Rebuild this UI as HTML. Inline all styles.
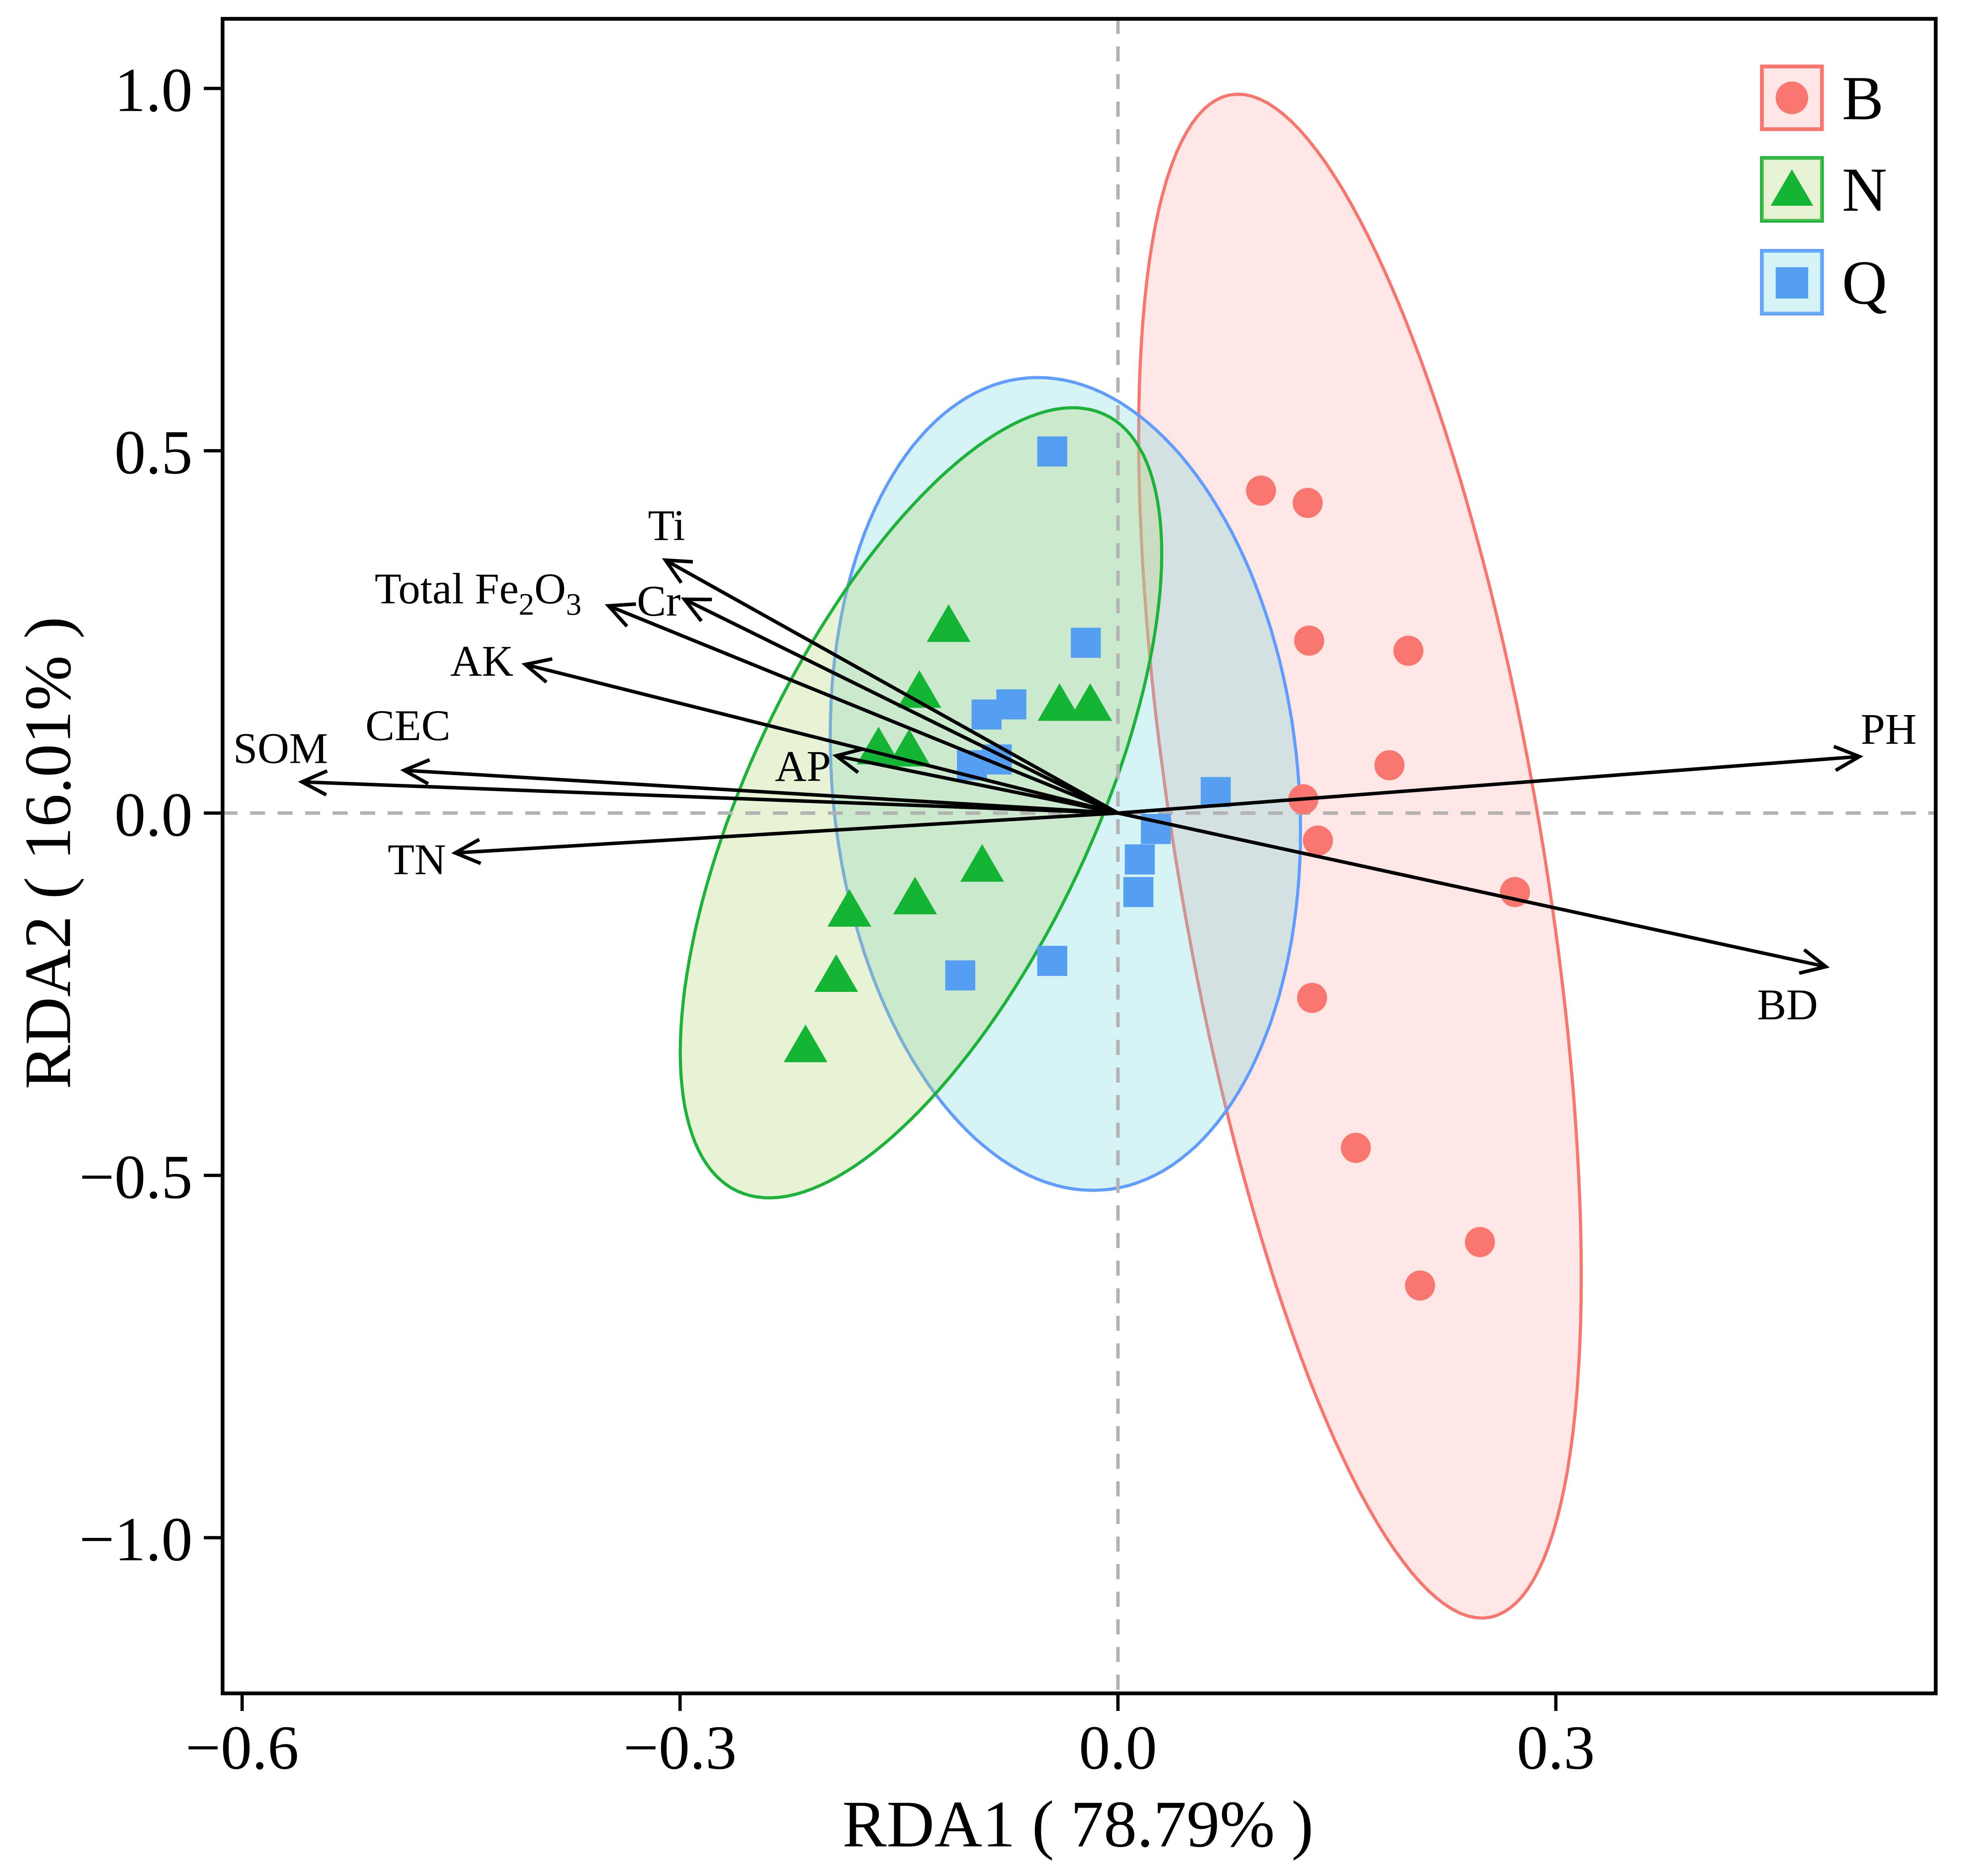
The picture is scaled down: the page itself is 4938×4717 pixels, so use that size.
<!DOCTYPE html>
<html><head><meta charset="utf-8"><style>html,body{margin:0;padding:0;background:#fff}svg{display:block}</style></head>
<body>
<svg id="chart" xmlns="http://www.w3.org/2000/svg" width="4938" height="4717" viewBox="0 0 1570.6 1495.6" preserveAspectRatio="none" font-family="'Liberation Serif', serif">
<rect width="1570.6" height="1495.6" fill="#fff"/>
<g id="plot"></g>
</svg>
<script>
const xTicks=[-0.6,-0.3,0.0,0.3];
const xTickLabels=["\u22120.6","\u22120.3","0.0","0.3"];
const yTicks=[-1.0,-0.5,0.0,0.5,1.0];
const yTickLabels=["\u22121.0","\u22120.5","0.0","0.5","1.0"];
const bX=[0.098,0.130,0.131,0.199,0.186,0.127,0.137,0.272,0.133,0.163,0.248,0.207];
const bY=[0.445,0.428,0.238,0.224,0.066,0.019,-0.038,-0.109,-0.255,-0.462,-0.592,-0.652];
const nX=[-0.116,-0.136,-0.040,-0.019,-0.164,-0.143,-0.093,-0.139,-0.184,-0.193,-0.214];
const nY=[0.257,0.166,0.148,0.148,0.088,0.085,-0.074,-0.119,-0.136,-0.226,-0.323];
const qX=[-0.045,-0.022,-0.073,-0.090,-0.100,-0.083,0.067,0.026,0.015,0.014,-0.045,-0.108];
const qY=[0.499,0.235,0.150,0.136,0.066,0.074,0.029,-0.022,-0.064,-0.109,-0.204,-0.224];
const envNames=["PH","BD","SOM","CEC","TN","AK","Total Fe2O3","Cr","Ti","AP"];
const envX=[0.508,0.485,-0.559,-0.489,-0.454,-0.406,-0.349,-0.297,-0.310,-0.193];
const envY=[0.078,-0.212,0.043,0.059,-0.055,0.205,0.286,0.295,0.349,0.079];
const ellipseCenters=[[0.1658,-0.0594],[-0.1349,0.0142],[-0.036,0.0402]];
const ellipseU=[[0.1516,-0.5792],[0.1649,0.3441],[0.1611,-0.0656]];
const ellipseV=[[0,0.8776],[0,-0.4229],[0,0.557]];

const L=178,R=1548,T=15,B=1350;
const sx=v=>894+v*1167.3, sy=v=>648.2-v*577.7;
const NS="http://www.w3.org/2000/svg";
const g=document.getElementById('plot');
function mk(tag,attrs,parent){const e=document.createElementNS(NS,tag);for(const k in attrs)e.setAttribute(k,attrs[k]);(parent||g).appendChild(e);return e;}

const eStroke=["#F8766D","#1DB33A","#619CFF"];
const eFill=["#F8766D","#B9D77A","#7CD6E0"];
const eOp=[0.18,0.32,0.32];
const eNames=["ellipse-b","ellipse-n","ellipse-q"];
[0,2,1].forEach(i=>{
  let d="";
  for(let k=0;k<=160;k++){const t=k/160*2*Math.PI;
    const x=ellipseCenters[i][0]+Math.cos(t)*ellipseU[i][0]+Math.sin(t)*ellipseV[i][0];
    const y=ellipseCenters[i][1]+Math.cos(t)*ellipseU[i][1]+Math.sin(t)*ellipseV[i][1];
    d+=(k?"L":"M")+sx(x).toFixed(1)+","+sy(y).toFixed(1);}
  const p=mk('path',{d:d+"Z",fill:eFill[i],'fill-opacity':eOp[i],stroke:eStroke[i],'stroke-width':2.5});
  
  
});
const zl1=mk('line',{x1:L,x2:R,y1:sy(0),y2:sy(0),stroke:'#b3b3b3','stroke-width':2.8,'stroke-dasharray':'12,10'});


const zl2=mk('line',{x1:sx(0),x2:sx(0),y1:T,y2:B,stroke:'#b3b3b3','stroke-width':2.8,'stroke-dasharray':'12,10'});



bX.forEach((x,i)=>{const c=mk('circle',{cx:sx(x),cy:sy(bY[i]),r:12,fill:'#F8766D'});
  
  });
nX.forEach((x,i)=>{const cx=sx(x),cy=sy(nY[i]);
  const p=mk('polygon',{points:`${cx},${cy-18} ${cx-17.5},${cy+12} ${cx+17.5},${cy+12}`,fill:'#14B534'});
  
  });
qX.forEach((x,i)=>{const r=mk('rect',{x:sx(x)-12,y:sy(qY[i])-12,width:24,height:24,fill:'#559FF2'});
  
  });

const lblDx=[1,-55,-55,-31,-54,-60,-187,-38,-14,-49];
const lblDy=[-10,42,-15,-24,17,9,-2,13,-16,20];
envNames.forEach((n,i)=>{
  const x2=sx(envX[i]),y2=sy(envY[i]),x1=sx(0),y1=sy(0);
  const ln=mk('line',{x1,y1,x2,y2,stroke:'#000','stroke-width':2.8});
  
  
  const a=Math.atan2(y2-y1,x2-x1),h=22,w=0.45;
  const hd=mk('polyline',{points:`${x2-h*Math.cos(a-w)},${y2-h*Math.sin(a-w)} ${x2},${y2} ${x2-h*Math.cos(a+w)},${y2-h*Math.sin(a+w)}`,fill:'none',stroke:'#000','stroke-width':2.8});
  
  
  const t=mk('text',{x:x2+lblDx[i],y:y2+lblDy[i],'font-size':35,fill:'#000'});
  
  
  if(n==="Total Fe2O3"){t.innerHTML='Total Fe<tspan font-size="25" dy="9">2</tspan><tspan dy="-9">O</tspan><tspan font-size="25" dy="9">3</tspan>';}
  else t.textContent=n;
});

const fr=mk('rect',{x:L,y:T,width:R-L,height:B-T,fill:'none',stroke:'#000','stroke-width':3});


xTicks.forEach((v,i)=>{const x=sx(v);
  const tk=mk('line',{x1:x,x2:x,y1:B,y2:B+14,stroke:'#000','stroke-width':2.6});
  
  
  const t=mk('text',{x:x,y:1410,'font-size':50,'text-anchor':'middle'});
  
  
  t.textContent=xTickLabels[i];});
yTicks.forEach((v,i)=>{const y=sy(v);
  const tk=mk('line',{x1:L-15,x2:L,y1:y,y2:y,stroke:'#000','stroke-width':2.6});
  
  
  const t=mk('text',{x:L-24,y:y+18,'font-size':50,'text-anchor':'end'});
  
  
  t.textContent=yTickLabels[i];});
const xt=mk('text',{x:862,y:1472,'font-size':53,'text-anchor':'middle'});


xt.textContent='RDA1 ( 78.79% )';
const yt=mk('text',{x:0,y:0,'font-size':53,'text-anchor':'middle',transform:'translate(56,680) rotate(-90)'});


yt.textContent='RDA2 ( 16.01% )';

const legN=["B","N","Q"],legY=[78,151,225];
legN.forEach((n,i)=>{
  const y=legY[i];
  const bx=mk('rect',{x:1409,y:y-25,width:48,height:50,fill:'#fff',stroke:eStroke[i],'stroke-width':3});
  
  
  mk('rect',{x:1409,y:y-25,width:48,height:50,fill:eFill[i],'fill-opacity':eOp[i],stroke:'none'});
  if(i===0) mk('circle',{cx:1433,cy:y,r:13,fill:'#F8766D'});
  if(i===1) mk('polygon',{points:`1433,${y-16} 1416,${y+13} 1450,${y+13}`,fill:'#14B534'});
  if(i===2) mk('rect',{x:1420,y:y-12,width:26,height:25,fill:'#559FF2'});
  const t=mk('text',{x:1473,y:y+17,'font-size':50});
  
  
  t.textContent=n;
});
</script>
</body></html>
